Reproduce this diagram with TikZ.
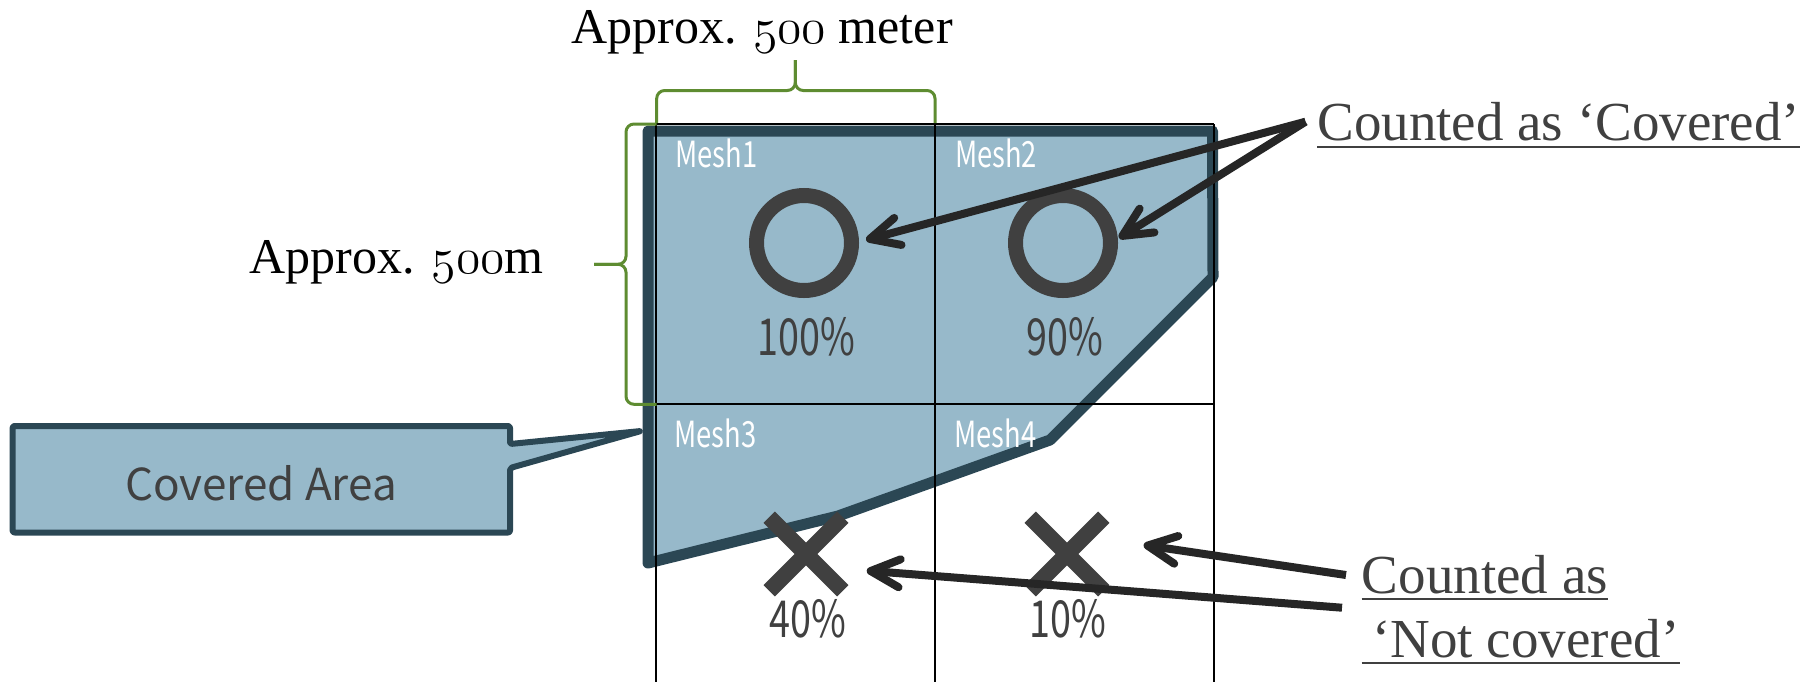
\documentclass[tikz,border=0pt]{standalone}
\usepackage{fontspec}
\setmainfont{Liberation Serif}
\newfontfamily\gothicfont{Noto Sans CJK JP}
\usepackage{graphicx}
\usetikzlibrary{arrows.meta,shapes.misc,calc}
\definecolor{areafill}{HTML}{97B9CA}
\definecolor{areaedge}{HTML}{2B4754}
\definecolor{symgray}{HTML}{404040}
\definecolor{arrowblk}{HTML}{262626}
\definecolor{bracegreen}{HTML}{5E8C31}
\newcommand\gtxt[3]{\scalebox{#1}[1]{\gothicfont\fontsize{#2}{#2}\selectfont #3}}
\newcommand\osn[1]{$\mathnormal{#1}$}
\begin{document}
\begin{tikzpicture}[x=0.5pt,y=-0.5pt,
  area/.style={fill=areafill, draw=areaedge, line width=5.5pt, line join=round},
  gridln/.style={black, line width=1.2pt},
  brace/.style={draw=bracegreen, line width=1.5pt, rounded corners=4pt},
  ring/.style={circle, draw=symgray, line width=7.5pt, minimum size=47.5pt, inner sep=0pt},
  xmark/.style={cross out, draw=symgray, line width=8pt, minimum size=28.8pt, inner sep=0pt},
  pointer/.style={draw=arrowblk, line width=4pt, -{Straight Barb[length=14.5pt,width=14pt,round]}},
  serif/.style={inner sep=0pt, font=\fontsize{25}{30}\selectfont, text=black},
  note/.style={inner sep=0pt, font=\fontsize{27.5}{33}\selectfont, text=symgray},
  uline/.style={draw=symgray, line width=1pt},
  meshlbl/.style={inner sep=0pt, text=white, anchor=base west},
  pct/.style={inner sep=0pt, text=symgray, anchor=base},
  callbox/.style={fill=areafill, draw=areaedge, line width=3pt, rounded corners=1pt, line join=round}]
\useasboundingbox (0,0) rectangle (1813,681);

% covered area
\draw[area] (648,131) -- (1212.5,131) -- (1213,277) -- (1050,440) -- (838,516) -- (648,563) -- cycle;

% callout
\draw[callbox] (12.6,426) -- (510,426) -- (510,444) -- (641,431) -- (510,468) -- (510,532.5) -- (12.6,532.5) -- cycle;
\node[inner sep=0pt, text=symgray, anchor=base] (callout) at (261,500) {\gtxt{1.0}{22}{Covered Area}};

% grid
\draw[gridln] (656,124) -- (656,690);
\draw[gridln] (935,124) -- (935,690);
\draw[gridln] (1214,124) -- (1214,690);
\draw[gridln] (656,124) -- (1214,124);
\draw[gridln] (656,404) -- (1214,404);

% braces
\draw[brace] (656.7,123) -- (656.7,90.5) -- (795.3,90.5) -- (795.3,60);
\draw[brace] (935,123) -- (935,90.5) -- (795.3,90.5) -- (795.3,60);
\draw[brace] (656.7,124) -- (626,124) -- (626,264.3) -- (594,264.3);
\draw[brace] (656.7,404.3) -- (626,404.3) -- (626,264.3) -- (594,264.3);

% labels
\node[serif, anchor=base] (title) at (762,43.3) {Approx. \osn{500} meter};
\node[serif, anchor=base] (side) at (396.7,273.3) {Approx. \osn{500}m};

\node[meshlbl] (m1) at (675,167) {\gtxt{0.76}{18}{Mesh1}};
\node[meshlbl] (m2) at (954.6,167) {\gtxt{0.76}{18}{Mesh2}};
\node[meshlbl] (m3) at (674,447) {\gtxt{0.76}{18}{Mesh3}};
\node[meshlbl] (m4) at (954,447) {\gtxt{0.76}{18}{Mesh4}};

% symbols
\node[ring] (o1) at (804,243) {};
\node[ring] (o2) at (1063,243) {};
\node[xmark] (x1) at (806,554) {};
\node[xmark] (x2) at (1067,554) {};

\node[pct] (p1) at (806,355) {\gtxt{0.74}{25.5}{100\%}};
\node[pct] (p2) at (1065,355) {\gtxt{0.74}{25.5}{90\%}};
\node[pct] (p3) at (808,637) {\gtxt{0.74}{25.5}{40\%}};
\node[pct] (p4) at (1068,637) {\gtxt{0.74}{25.5}{10\%}};

% notes
\node[note, anchor=base west] (cov) at (1317,140) {Counted as ‘Covered’};
\node[note, anchor=base west] (nc1) at (1361.5,593) {Counted as};
\node[note, anchor=base west] (nc2) at (1372,657) {‘Not covered’};
\draw[uline] ($(cov.base west)+(0,6.7)$) -- ($(cov.base east)+(0,6.7)$);
\draw[uline] ($(nc1.base west)+(0,6)$) -- ($(nc1.base east)+(0,6)$);
\draw[uline] ($(nc1.base west |- nc2.base)+(0,6)$) -- ($(nc2.base east)+(0,6)$);

% arrows
\coordinate (s1) at ($(cov.base west)+(-11.5,-18.3)$);
\coordinate (s3) at ($(nc1.base west)+(-15.5,-18)$);
\coordinate (s4) at ($(nc1.base west)+(-19.5,14.7)$);
\draw[pointer] (s1) -- ($(o1.center)+(62,-3)$);
\draw[pointer] (s1) -- ($(o2.center)+(56,-5)$);
\draw[pointer] (s3) -- ($(x2.center)+(76.6,-9)$);
\draw[pointer] (s4) -- ($(x1.center)+(60.7,16.7)$);
\end{tikzpicture}
\end{document}
